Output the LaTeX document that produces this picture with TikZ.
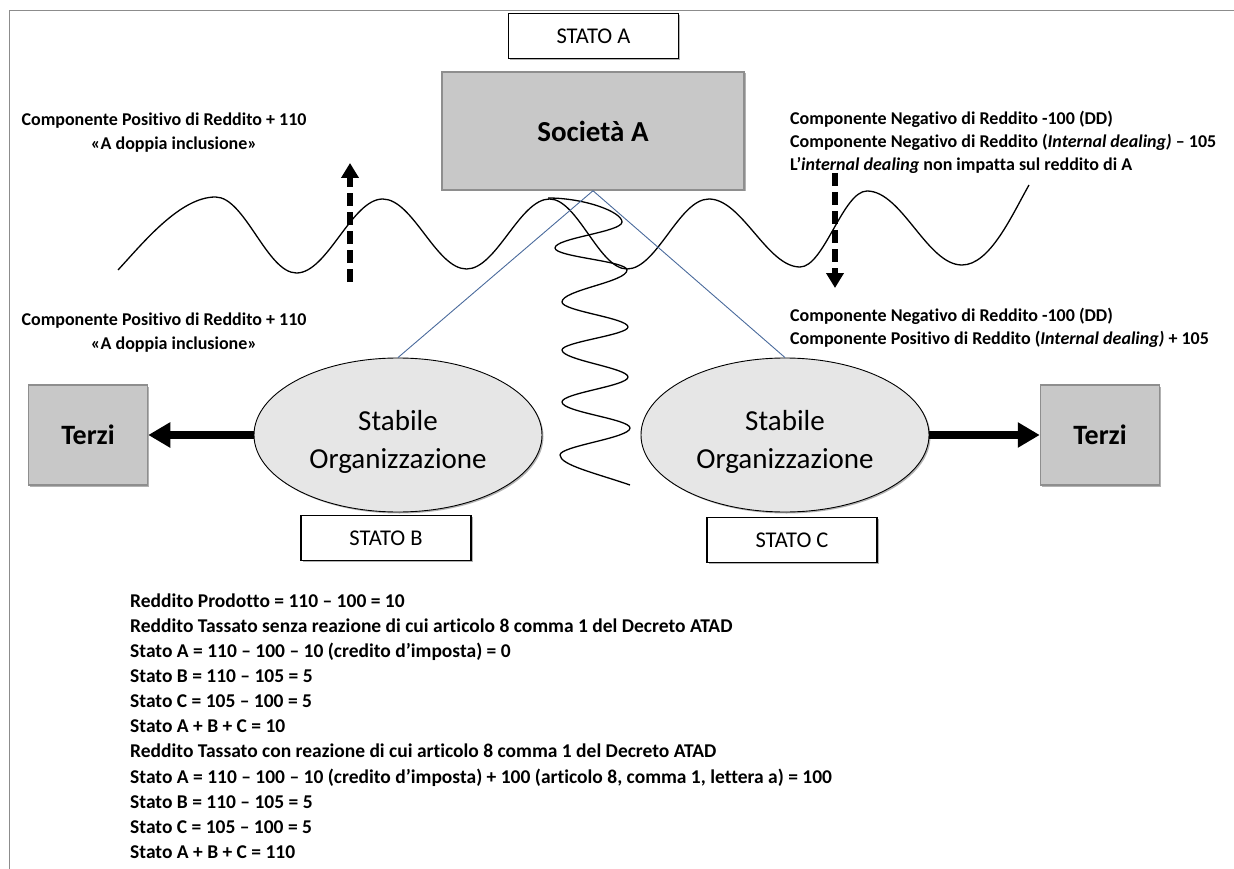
\documentclass[tikz,border=0pt]{standalone}
\usepackage{fontspec}
\setmainfont{Carlito}[Ligatures={NoCommon}]
\usetikzlibrary{arrows.meta,shapes.geometric,shadows}
\definecolor{boxgray}{HTML}{C8C8C8}
\definecolor{boxedge}{HTML}{8E8E8E}
\definecolor{framegray}{HTML}{8C8C8C}
\definecolor{linkblue}{HTML}{4A6A9C}
\definecolor{sofill}{HTML}{E6E6E6}
\tikzset{
  softshadow/.style={drop shadow={shadow xshift=1.5pt,shadow yshift=-1.5pt,opacity=.3,fill=black}},
  statebox/.style={draw=black,line width=1.2pt,fill=white,minimum width=170pt,minimum height=45pt,inner sep=0pt,
    font=\fontsize{22.5}{27}\selectfont,softshadow},
  socbox/.style={draw=boxedge,line width=1.5pt,fill=boxgray,minimum width=302pt,minimum height=118pt,inner sep=0pt,
    font=\bfseries\fontsize{29}{34}\selectfont,softshadow},
  terzibox/.style={draw=boxedge,line width=1.5pt,fill=boxgray,minimum width=119pt,minimum height=100pt,inner sep=0pt,
    font=\bfseries\fontsize{28}{33}\selectfont,softshadow},
  sobox/.style={ellipse,draw=black,line width=0.9pt,fill=sofill,
    minimum width=288pt,minimum height=154pt,inner sep=0pt,align=center,
    font=\fontsize{29}{38}\selectfont,softshadow},
  lbl/.style={inner sep=0pt,font=\bfseries\fontsize{18}{23.3}\selectfont},
  lblbig/.style={inner sep=0pt,font=\bfseries\fontsize{19.5}{25.1}\selectfont},
  link/.style={draw=linkblue,line width=0.9pt},
  wavy/.style={draw=black,line width=1.3pt},
  bigarrow/.style={line width=8pt,-{Triangle[width=24pt,length=22pt]}},
  dasharrow/.style={line width=5.5pt,dash pattern=on 13pt off 6pt,-{Triangle[width=17pt,length=15pt]}},
}
\begin{document}
\begin{tikzpicture}[x=1pt,y=-1pt]
\useasboundingbox (0,0) rectangle (1234,869);
% frame
\draw[framegray,line width=1pt] (1234,11) -- (9.5,11) -- (9.5,869);

% wave (horizontal)
\draw[wavy] (118,270) .. controls (143,243) and (180,197) .. (215.5,197)
 .. controls (245,197) and (267,273) .. (296.5,273)
 .. controls (327.5,273) and (351.7,199) .. (382.7,199)
 .. controls (413,199) and (436,269) .. (466.6,269)
 .. controls (496.6,269) and (519.6,199) .. (549.6,199)
 .. controls (577.6,199) and (599,269) .. (627,269)
 .. controls (657,269) and (679,199) .. (709,199)
 .. controls (742,199) and (767,267) .. (800,267)
 .. controls (824,267) and (843,191) .. (867,191)
 .. controls (902,191) and (927,265) .. (962,265)
 .. controls (990,265) and (1012,215) .. (1029,185);

% spring (vertical)
\draw[wavy] (548,198) .. controls (585,198) and (622,212) .. (622,222)
 .. controls (622,232) and (555,238) .. (555,248)
 .. controls (555,257) and (627,261) .. (627,270)
 .. controls (627,282) and (562,290) .. (562,302)
 .. controls (562,311) and (628,318) .. (628,327)
 .. controls (628,335) and (562,342) .. (562,350)
 .. controls (562,360) and (628,368) .. (628,377)
 .. controls (628,386) and (562,393) .. (562,402)
 .. controls (562,412) and (630,419) .. (630,428)
 .. controls (630,438) and (560,446) .. (560,455)
 .. controls (560,465) and (595,473) .. (630,485);

% nodes
\node[statebox] (sa) at (593.5,36) {STATO A};
\node[socbox] (soc) at (593,131) {Società A};
\node[sobox] (so1) at (398,435) {\rule{0pt}{33pt}Stabile\\Organizzazione};
\node[sobox] (so2) at (785,435) {\rule{0pt}{33pt}Stabile\\Organizzazione};
\node[terzibox] (t1) at (88,435) {Terzi};
\node[terzibox] (t2) at (1100,435) {Terzi};
\node[statebox] (sb) at (386,538) {STATO B};
\node[statebox] (sc) at (792,540) {STATO C};

% links
\draw[link] (soc.south) -- (so1.north);
\draw[link] (soc.south) -- (so2.north);
\draw[bigarrow] (so1.west) -- (t1.east);
\draw[bigarrow] (so2.east) -- (t2.west);

% dashed arrows
\coordinate (ua1) at (350,282);
\coordinate (ua2) at (350,163);
\coordinate (da1) at (835,173);
\coordinate (da2) at (835,288);
\draw[dasharrow] (ua1) -- (ua2);
\draw[dasharrow] (da1) -- (da2);

% labels
\node[lbl,align=center,anchor=north] (tl) at (164,113) {Componente Positivo di Reddito + 110\\\hspace*{20pt}«A doppia inclusione»};
\node[lbl,align=center,anchor=north] (ml) at (164,313) {Componente Positivo di Reddito + 110\\\hspace*{20pt}«A doppia inclusione»};
\node[lbl,align=left,anchor=north west] (tr) at (790,110.5) {Componente Negativo di Reddito -100 (DD)\\Componente Negativo di Reddito (\textit{Internal dealing)} – 105\\L’\textit{internal dealing} non impatta sul reddito di A};
\node[lbl,align=left,anchor=north west] (mr) at (790,308) {Componente Negativo di Reddito -100 (DD)\\Componente Positivo di Reddito (\textit{Internal dealing)} + 105};
\node[lblbig,align=left,anchor=north west] (calc) at (130,593.5) {Reddito Prodotto = 110 – 100 = 10\\
Reddito Tassato senza reazione di cui articolo 8 comma 1 del Decreto ATAD\\
Stato A = 110 – 100 – 10 (credito d’imposta) = 0\\
Stato B = 110 – 105 = 5\\
Stato C = 105 – 100 = 5\\
Stato A + B + C = 10\\
Reddito Tassato con reazione di cui articolo 8 comma 1 del Decreto ATAD\\
Stato A = 110 – 100 – 10 (credito d’imposta) + 100 (articolo 8, comma 1, lettera a) = 100\\
Stato B = 110 – 105 = 5\\
Stato C = 105 – 100 = 5\\
Stato A + B + C = 110};
\end{tikzpicture}
\end{document}
